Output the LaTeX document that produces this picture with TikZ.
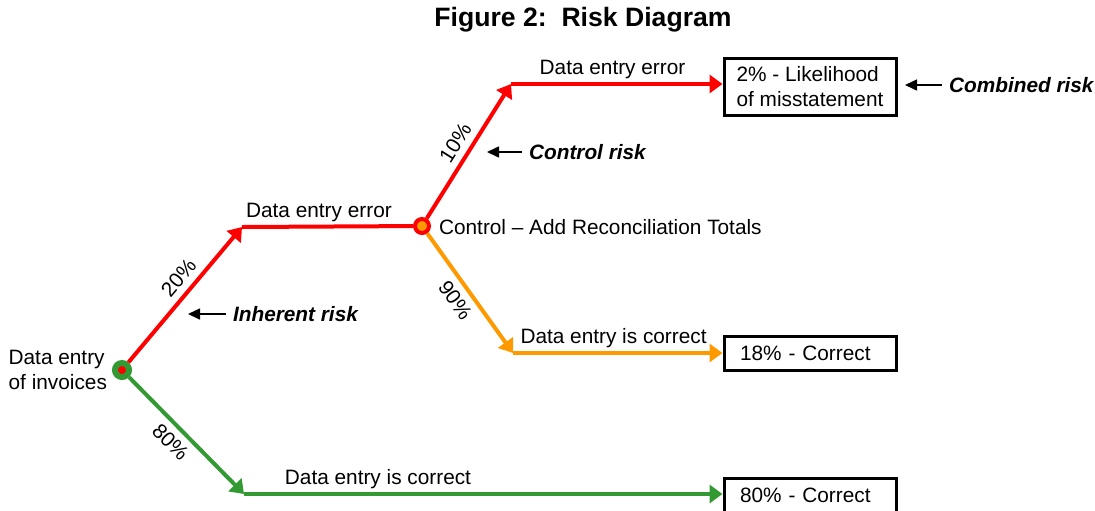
\documentclass[tikz,border=0pt]{standalone}
\usepackage{fontspec}
\setmainfont{Liberation Sans}
\usetikzlibrary{arrows.meta,positioning,calc}
\definecolor{riskred}{RGB}{255,0,0}
\definecolor{riskorange}{RGB}{255,153,0}
\definecolor{riskgreen}{RGB}{51,153,51}

\begin{document}
\begin{tikzpicture}[x=0.5pt,y=-0.5pt,
  every node/.style={font=\fontsize{10.4}{12.4}\selectfont,text=black},
  branch/.style={line width=2pt,-{Triangle[length=6.5pt,width=9pt]}},
  flat/.style={line width=2pt},
  tag/.style={above,inner sep=1.5pt},
  outcome/.style={draw,line width=1.5pt,minimum width=86pt,inner sep=0pt,align=left},
  note/.style={font=\fontsize{10.4}{12.4}\selectfont\bfseries\itshape,anchor=west},
  pointer/.style={line width=0.8pt,-{Triangle[length=6pt,width=5.5pt]}}]
\useasboundingbox (0,0) rectangle (1095,510);

% title
\node[font=\fontsize{13.3}{16}\selectfont\bfseries] (title) at (583,20) {Figure 2:\ \ Risk Diagram};

% decision points
\node[circle,draw=riskgreen,fill=riskred,line width=3pt,minimum size=7pt,inner sep=0pt] (start) at (122,370) {};
\node[circle,draw=riskred,fill=riskorange,line width=2pt,minimum size=7pt,inner sep=0pt] (ctrl) at (422,226) {};
\node[left=-1pt of start,align=left] (startlbl) {Data entry\\of invoices};
\node[anchor=west] (ctrllbl) at (432,227) {Control -- Add Reconciliation Totals};

% outcomes
\node[outcome,minimum height=28.5pt] (topbox) at (810,86.5) {2\% - Likelihood\\of misstatement};
\node[outcome,minimum height=17pt,text width=70pt] (midbox) at (810,353) {18\% - Correct};
\node[outcome,minimum height=17pt,text width=70pt] (lowbox) at (810,495) {80\% - Correct};

% bends
\coordinate (b1) at (242,227);
\coordinate (b2) at (511,84);
\coordinate (b3) at (513,353);
\coordinate (b4) at (244,494);

% inherent branch
\draw[branch,riskred] (start) -- node[sloped,above,pos=0.55] {20\%} (b1);
\draw[flat,riskred] (b1) -- node[tag,pos=0.45] {Data entry error} (ctrl);
\draw[branch,riskgreen] (start) -- node[sloped,below,pos=0.46] {80\%} (b4);
\draw[branch,riskgreen] (b4) -- node[tag,pos=0.28] {Data entry is correct} (b4 -| lowbox.west);

% control branch
\draw[branch,riskred] (ctrl) -- node[sloped,above,pos=0.5] {10\%} (b2);
\draw[branch,riskred] (b2) -- node[tag,pos=0.48] {Data entry error} (b2 -| topbox.west);
\draw[branch,riskorange] (ctrl) -- node[sloped,below,pos=0.48] {90\%} (b3);
\draw[branch,riskorange] (b3) -- node[tag,pos=0.48] {Data entry is correct} (b3 -| midbox.west);

% risk notes
\node[note] (inh) at (226,314) {Inherent risk};
\node[note] (conr) at (522,152) {Control risk};
\node[note] (comb) at (942,85) {Combined risk};
\coordinate (inhtip) at (188,314);
\coordinate (conrtip) at (487,152);
\coordinate (combtip) at (905,85);
\draw[pointer] (inh.west) -- (inhtip);
\draw[pointer] (conr.west) -- (conrtip);
\draw[pointer] (comb.west) -- (combtip);
\end{tikzpicture}
\end{document}
